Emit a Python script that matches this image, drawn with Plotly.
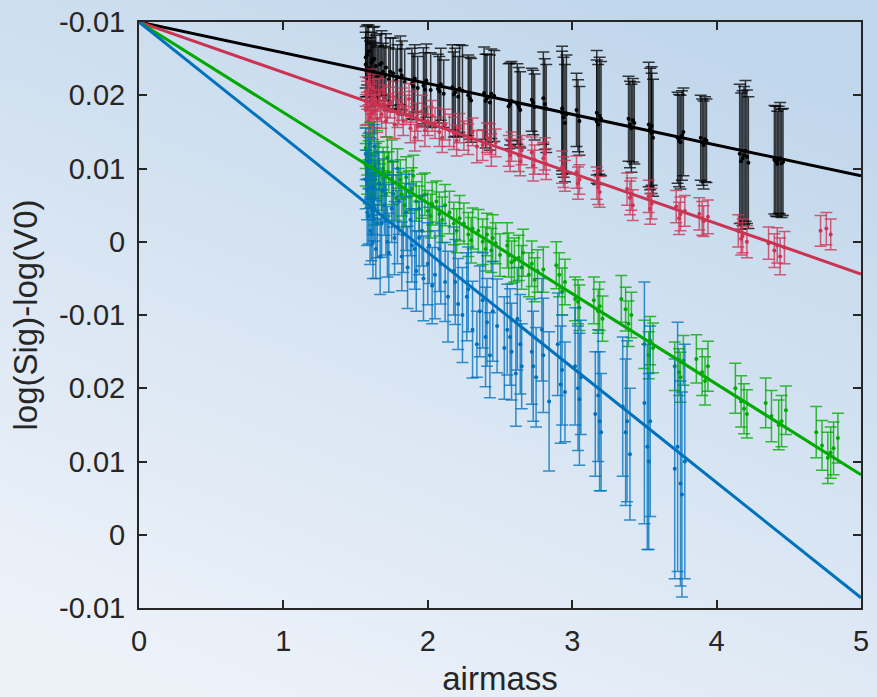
import base64
import plotly.graph_objects as go

# ---- observations: airmass, log(Sig)-log(V0), 1-sigma error ----
black_am = [1.57, 1.58, 1.59, 1.60, 1.61, 1.62, 1.63, 1.65, 1.67, 1.69, 1.71, 1.73, 1.76, 1.79, 1.81, 1.84,
            1.89, 1.91, 1.93, 1.97, 1.99, 2.02, 2.07, 2.09, 2.11, 2.17, 2.19, 2.21, 2.24, 2.28, 2.30,
            2.39, 2.41, 2.43, 2.46, 2.56, 2.58, 2.62, 2.64, 2.72, 2.74, 2.80, 2.82, 2.93, 2.94, 2.95,
            3.03, 3.05, 3.17, 3.18, 3.20, 3.39, 3.41, 3.43, 3.53, 3.55, 3.56, 3.73, 3.75, 3.77,
            3.89, 3.91, 3.93, 4.16, 4.18, 4.20, 4.22, 4.40, 4.42, 4.44, 4.46,
            1.57, 1.58, 1.60, 1.61, 1.62, 1.64, 1.66, 1.68, 1.70, 1.74,
            1.78, 1.82, 1.90, 1.98, 2.08, 2.18, 2.22, 2.29, 2.40, 2.44,
            2.57, 2.63, 2.73, 2.81, 2.93, 2.96, 3.04, 3.17, 3.19, 3.40,
            3.42, 3.54, 3.55, 3.74, 3.76, 3.90, 3.92, 4.17, 4.19, 4.21,
            4.41, 4.43, 4.45]
black_val = [-0.0048, -0.0062, -0.0040, -0.0071, -0.0055, -0.0066, -0.0050, -0.0074, -0.0058, -0.0068,
             -0.0062, -0.0078, -0.0070, -0.0075, -0.0066, -0.0082, -0.0084, -0.0077, -0.0090, -0.0087,
             -0.0080, -0.0093, -0.0091, -0.0085, -0.0098, -0.0089, -0.0096, -0.0102, -0.0094, -0.0100,
             -0.0107, -0.0097, -0.0104, -0.0110, -0.0101, -0.0115, -0.0108, -0.0112, -0.0120, -0.0106,
             -0.0116, -0.0104, -0.0118, -0.0118, -0.0130, -0.0138, -0.0120, -0.0135, -0.0124, -0.0140,
             -0.0132, -0.0132, -0.0145, -0.0138, -0.0140, -0.0152, -0.0158, -0.0158, -0.0164, -0.0150,
             -0.0158, -0.0168, -0.0162, -0.0180, -0.0186, -0.0176, -0.0192, -0.0188, -0.0194, -0.0186,
             -0.0191,
             -0.0058, -0.0045, -0.0064, -0.0070, -0.0052, -0.0060, -0.0072, -0.0056, -0.0074, -0.0068,
             -0.0080, -0.0073, -0.0088, -0.0092, -0.0095, -0.0099, -0.0091, -0.0104, -0.0108, -0.0098,
             -0.0112, -0.0116, -0.0110, -0.0112, -0.0124, -0.0126, -0.0128, -0.0136, -0.0128, -0.0140,
             -0.0134, -0.0146, -0.0142, -0.0162, -0.0155, -0.0164, -0.0160, -0.0190, -0.0182, -0.0184,
             -0.0190, -0.0188, -0.0193]
black_err = [0.0042, 0.0040, 0.0036, 0.0045, 0.0041, 0.0038, 0.0044, 0.0040, 0.0042, 0.0039, 0.0046,
             0.0043, 0.0048, 0.0044, 0.0047, 0.0045, 0.0048, 0.0046, 0.0043, 0.0052, 0.0050, 0.0051,
             0.0047, 0.0049, 0.0046, 0.0058, 0.0060, 0.0055, 0.0062, 0.0055, 0.0057, 0.0063, 0.0060,
             0.0065, 0.0062, 0.0058, 0.0054, 0.0055, 0.0052, 0.0043, 0.0045, 0.0063, 0.0060, 0.0085,
             0.0082, 0.0080, 0.0050, 0.0047, 0.0085, 0.0082, 0.0078, 0.0058, 0.0060, 0.0056, 0.0085,
             0.0082, 0.0080, 0.0062, 0.0064, 0.0060, 0.0058, 0.0060, 0.0057, 0.0095, 0.0092, 0.0096,
             0.0090, 0.0074, 0.0072, 0.0076, 0.0073,
             0.0044, 0.0041, 0.0043, 0.0040, 0.0045, 0.0042, 0.0040, 0.0044, 0.0041, 0.0046,
             0.0043, 0.0047, 0.0045, 0.0050, 0.0048, 0.0058, 0.0060, 0.0056, 0.0064, 0.0061,
             0.0056, 0.0054, 0.0044, 0.0062, 0.0084, 0.0081, 0.0049, 0.0084, 0.0080, 0.0059,
             0.0057, 0.0083, 0.0081, 0.0063, 0.0061, 0.0059, 0.0058, 0.0093, 0.0094, 0.0091,
             0.0075, 0.0073, 0.0074]

red_am = [1.57, 1.58, 1.59, 1.60, 1.61, 1.62, 1.63, 1.64, 1.66, 1.68, 1.70, 1.72, 1.76, 1.79, 1.82, 1.85,
          1.88, 1.89, 1.91, 1.92, 1.96, 2.00, 2.03, 2.08, 2.12, 2.18, 2.22, 2.28, 2.31, 2.38, 2.41,
          2.44, 2.47, 2.56, 2.58, 2.63, 2.65, 2.72, 2.74, 2.80, 2.82, 2.93, 2.95, 3.03, 3.05, 3.17,
          3.19, 3.38, 3.40, 3.42, 3.53, 3.55, 3.72, 3.75, 3.78, 3.88, 3.91, 3.94, 4.15, 4.18, 4.21,
          4.36, 4.40, 4.44, 4.47, 4.72, 4.76, 4.79,
          1.57, 1.58, 1.59, 1.60, 1.61, 1.62, 1.63, 1.65, 1.67, 1.69,
          1.71, 1.74, 1.77, 1.80, 1.83, 1.87, 1.93, 1.98, 2.05, 2.10,
          2.15, 2.20, 2.25, 2.34, 2.43, 2.57, 2.64, 2.73, 2.81, 2.94,
          3.04, 3.18, 3.41, 3.54, 3.74, 3.90, 4.17, 4.42]
red_val = [-0.0095, -0.0118, -0.0082, -0.0130, -0.0105, -0.0090, -0.0122, -0.0112, -0.0098, -0.0126,
           -0.0108, -0.0118, -0.0102, -0.0125, -0.0112, -0.0120, -0.0145, -0.0116, -0.0158, -0.0130,
           -0.0122, -0.0135, -0.0128, -0.0150, -0.0140, -0.0152, -0.0145, -0.0160, -0.0150, -0.0168,
           -0.0158, -0.0175, -0.0165, -0.0176, -0.0170, -0.0182, -0.0175, -0.0178, -0.0188, -0.0186,
           -0.0194, -0.0198, -0.0210, -0.0205, -0.0215, -0.0220, -0.0232, -0.0228, -0.0240, -0.0250,
           -0.0238, -0.0248, -0.0252, -0.0262, -0.0258, -0.0262, -0.0272, -0.0266, -0.0285, -0.0292,
           -0.0300, -0.0302, -0.0312, -0.0320, -0.0308, -0.0285, -0.0282, -0.0290,
           -0.0120, -0.0100, -0.0135, -0.0088, -0.0125, -0.0140, -0.0100, -0.0132, -0.0115, -0.0092,
           -0.0135, -0.0110, -0.0140, -0.0118, -0.0135, -0.0105, -0.0142, -0.0148, -0.0138, -0.0158,
           -0.0148, -0.0162, -0.0155, -0.0170, -0.0160, -0.0182, -0.0190, -0.0196, -0.0180, -0.0205,
           -0.0220, -0.0226, -0.0235, -0.0255, -0.0268, -0.0268, -0.0296, -0.0305]
red_err = [0.0020, 0.0022, 0.0018, 0.0020, 0.0021, 0.0019, 0.0022, 0.0020, 0.0021, 0.0019, 0.0022,
           0.0020, 0.0021, 0.0019, 0.0022, 0.0020, 0.0020, 0.0021, 0.0018, 0.0019, 0.0022, 0.0020,
           0.0021, 0.0020, 0.0021, 0.0022, 0.0020, 0.0021, 0.0019, 0.0021, 0.0020, 0.0022, 0.0019,
           0.0021, 0.0020, 0.0022, 0.0020, 0.0021, 0.0020, 0.0022, 0.0021, 0.0022, 0.0021, 0.0022,
           0.0020, 0.0022, 0.0021, 0.0022, 0.0023, 0.0021, 0.0022, 0.0021, 0.0022, 0.0023, 0.0021,
           0.0022, 0.0021, 0.0023, 0.0022, 0.0023, 0.0022, 0.0022, 0.0023, 0.0025, 0.0022, 0.0021,
           0.0022, 0.0021,
           0.0021, 0.0019, 0.0022, 0.0020, 0.0021, 0.0020, 0.0022, 0.0019, 0.0021, 0.0020,
           0.0022, 0.0021, 0.0019, 0.0022, 0.0020, 0.0021, 0.0020, 0.0022, 0.0021, 0.0020,
           0.0022, 0.0021, 0.0020, 0.0022, 0.0021, 0.0022, 0.0020, 0.0021, 0.0022, 0.0021,
           0.0022, 0.0023, 0.0022, 0.0021, 0.0022, 0.0023, 0.0022, 0.0024]

green_am = [1.57, 1.58, 1.59, 1.60, 1.61, 1.62, 1.63, 1.64, 1.66, 1.68, 1.70, 1.72, 1.76, 1.79, 1.82,
            1.85, 1.89, 1.92, 1.96, 2.00, 2.03, 2.08, 2.12, 2.18, 2.22, 2.28, 2.31, 2.38, 2.41, 2.44,
            2.47, 2.56, 2.58, 2.63, 2.65, 2.72, 2.74, 2.76, 2.89, 2.91, 2.95, 3.02, 3.05, 3.15, 3.18,
            3.21, 3.34, 3.37, 3.41, 3.50, 3.53, 3.56, 3.71, 3.74, 3.77, 3.86, 3.90, 3.94, 4.13, 4.17,
            4.21, 4.34, 4.38, 4.43, 4.48, 4.69, 4.73, 4.77, 4.81, 4.84,
            1.57, 1.58, 1.59, 1.60, 1.61, 1.62, 1.63, 1.65, 1.67, 1.69,
            1.71, 1.73, 1.75, 1.78, 1.81, 1.84, 1.87, 1.90, 1.94, 1.98,
            2.02, 2.06, 2.10, 2.15, 2.20, 2.25, 2.30, 2.35, 2.40, 2.45,
            2.50, 2.55, 2.60, 2.66, 2.70, 2.80, 2.93, 3.04, 3.19, 3.39,
            3.54, 3.75, 3.92, 4.19, 4.45, 4.79]
green_val = [-0.0172, -0.0205, -0.0188, -0.0225, -0.0180, -0.0240, -0.0198, -0.0215, -0.0192, -0.0230,
             -0.0208, -0.0185, -0.0220, -0.0200, -0.0235, -0.0212, -0.0228, -0.0245, -0.0238, -0.0258,
             -0.0248, -0.0262, -0.0250, -0.0275, -0.0268, -0.0290, -0.0282, -0.0300, -0.0290, -0.0312,
             -0.0302, -0.0318, -0.0328, -0.0322, -0.0335, -0.0330, -0.0352, -0.0340, -0.0332, -0.0345,
             -0.0355, -0.0378, -0.0390, -0.0380, -0.0395, -0.0405, -0.0378, -0.0392, -0.0400, -0.0440,
             -0.0455, -0.0445, -0.0470, -0.0478, -0.0462, -0.0460, -0.0478, -0.0470, -0.0500, -0.0518,
             -0.0535, -0.0520, -0.0538, -0.0550, -0.0530, -0.0560, -0.0578, -0.0595, -0.0582, -0.0568,
             -0.0195, -0.0182, -0.0218, -0.0165, -0.0235, -0.0210, -0.0250, -0.0178, -0.0222, -0.0200,
             -0.0235, -0.0205, -0.0190, -0.0240, -0.0215, -0.0250, -0.0232, -0.0210, -0.0255, -0.0235,
             -0.0265, -0.0245, -0.0270, -0.0260, -0.0285, -0.0275, -0.0298, -0.0285, -0.0310, -0.0295,
             -0.0318, -0.0305, -0.0325, -0.0315, -0.0345, -0.0338, -0.0368, -0.0382, -0.0388, -0.0412,
             -0.0435, -0.0485, -0.0490, -0.0528, -0.0545, -0.0588]
green_err = [0.0028, 0.0030, 0.0026, 0.0029, 0.0027, 0.0030, 0.0028, 0.0026, 0.0029, 0.0027, 0.0030,
             0.0028, 0.0029, 0.0027, 0.0030, 0.0028, 0.0029, 0.0027, 0.0030, 0.0028, 0.0029, 0.0030,
             0.0028, 0.0029, 0.0031, 0.0030, 0.0028, 0.0031, 0.0029, 0.0030, 0.0028, 0.0030, 0.0029,
             0.0031, 0.0030, 0.0031, 0.0030, 0.0029, 0.0032, 0.0030, 0.0031, 0.0030, 0.0031, 0.0032,
             0.0030, 0.0031, 0.0032, 0.0030, 0.0031, 0.0033, 0.0032, 0.0034, 0.0033, 0.0032, 0.0034,
             0.0033, 0.0032, 0.0034, 0.0034, 0.0035, 0.0033, 0.0034, 0.0035, 0.0034, 0.0033, 0.0035,
             0.0034, 0.0035, 0.0036, 0.0034,
             0.0029, 0.0027, 0.0030, 0.0028, 0.0029, 0.0031, 0.0027, 0.0030, 0.0028, 0.0029,
             0.0030, 0.0028, 0.0029, 0.0031, 0.0027, 0.0030, 0.0029, 0.0028, 0.0031, 0.0029,
             0.0030, 0.0028, 0.0031, 0.0029, 0.0030, 0.0028, 0.0031, 0.0029, 0.0030, 0.0032,
             0.0029, 0.0031, 0.0030, 0.0032, 0.0030, 0.0031, 0.0032, 0.0030, 0.0033, 0.0031,
             0.0033, 0.0034, 0.0033, 0.0034, 0.0035, 0.0035]

blue_am = [1.57, 1.58, 1.59, 1.60, 1.61, 1.62, 1.63, 1.64, 1.66, 1.68, 1.70, 1.72, 1.76, 1.79, 1.82,
           1.85, 1.89, 1.92, 1.96, 2.00, 2.03, 2.08, 2.12, 2.18, 2.21, 2.28, 2.34, 2.38, 2.41, 2.45,
           2.55, 2.58, 2.62, 2.65, 2.72, 2.75, 2.79, 2.84, 2.90, 2.93, 2.95, 3.02, 3.04, 3.06, 3.16,
           3.18, 3.20, 3.35, 3.37, 3.40, 3.50, 3.52, 3.54, 3.71, 3.73, 3.75, 3.78,
           1.57, 1.58, 1.59, 1.60, 1.61, 1.62, 1.63, 1.64, 1.65, 1.67,
           1.69, 1.71, 1.73, 1.75, 1.77, 1.80, 1.83, 1.86, 1.88, 1.91,
           1.94, 1.97, 2.01, 2.05, 2.09, 2.14, 2.19, 2.24, 2.27, 2.31,
           2.36, 2.40, 2.43, 2.48, 2.53, 2.57, 2.61, 2.64, 2.73, 2.80,
           2.92, 3.05, 3.19, 3.38, 3.53, 3.76]
blue_val = [-0.0180, -0.0230, -0.0265, -0.0200, -0.0290, -0.0245, -0.0170, -0.0310, -0.0220, -0.0275,
            -0.0250, -0.0300, -0.0235, -0.0280, -0.0320, -0.0260, -0.0305, -0.0340, -0.0285, -0.0330,
            -0.0360, -0.0310, -0.0355, -0.0340, -0.0385, -0.0365, -0.0440, -0.0380, -0.0410, -0.0395,
            -0.0420, -0.0450, -0.0405, -0.0470, -0.0450, -0.0485, -0.0420, -0.0518, -0.0440, -0.0475,
            -0.0505, -0.0470, -0.0500, -0.0485, -0.0535, -0.0510, -0.0560, -0.0525, -0.0560, -0.0590,
            -0.0520, -0.0580, -0.0545, -0.0610, -0.0580, -0.0630, -0.0600,
            -0.0215, -0.0260, -0.0190, -0.0285, -0.0225, -0.0300, -0.0255, -0.0205, -0.0275, -0.0320,
            -0.0230, -0.0270, -0.0315, -0.0255, -0.0295, -0.0245, -0.0290, -0.0335, -0.0270, -0.0310,
            -0.0295, -0.0350, -0.0305, -0.0345, -0.0330, -0.0375, -0.0355, -0.0400, -0.0375, -0.0420,
            -0.0395, -0.0430, -0.0455, -0.0415, -0.0445, -0.0430, -0.0480, -0.0440, -0.0470, -0.0455,
            -0.0495, -0.0515, -0.0545, -0.0545, -0.0600, -0.0645]
blue_err = [0.0035, 0.0040, 0.0038, 0.0042, 0.0036, 0.0045, 0.0030, 0.0040, 0.0043, 0.0046, 0.0041,
            0.0048, 0.0045, 0.0050, 0.0047, 0.0052, 0.0050, 0.0055, 0.0048, 0.0056, 0.0052, 0.0058,
            0.0054, 0.0060, 0.0062, 0.0058, 0.0045, 0.0065, 0.0060, 0.0068, 0.0062, 0.0066, 0.0070,
            0.0058, 0.0072, 0.0068, 0.0070, 0.0095, 0.0070, 0.0075, 0.0068, 0.0080, 0.0085, 0.0078,
            0.0085, 0.0090, 0.0080, 0.0095, 0.0100, 0.0090, 0.0165, 0.0140, 0.0130, 0.0150, 0.0170,
            0.0140, 0.0160,
            0.0040, 0.0045, 0.0038, 0.0046, 0.0042, 0.0050, 0.0044, 0.0039, 0.0047, 0.0052,
            0.0043, 0.0048, 0.0054, 0.0046, 0.0050, 0.0045, 0.0052, 0.0056, 0.0049, 0.0055,
            0.0050, 0.0058, 0.0052, 0.0060, 0.0055, 0.0062, 0.0058, 0.0065, 0.0060, 0.0066,
            0.0062, 0.0068, 0.0058, 0.0064, 0.0070, 0.0066, 0.0072, 0.0068, 0.0075, 0.0078,
            0.0080, 0.0090, 0.0095, 0.0110, 0.0120, 0.0140]

# ---- fitted extinction lines: value at airmass 0 and at airmass 5 ----
fit_x = [0, 5]
fit_black = [0.0, -0.0210]
fit_red = [0.0, -0.0344]
fit_green = [0.0, -0.0618]
fit_blue = [0.0, -0.0786]

# ---- axis ticks ----
x_ticks = [0, 1, 2, 3, 4, 5]
y_tickvals = [0.0, -0.01, -0.02, -0.03, -0.04, -0.05, -0.06, -0.07, -0.08]
y_ticktext = ["-0.01", "0.02", "0.01", "0", "-0.01", "0.02", "0.01", "0", "-0.01"]

AXIS_COLOR = "#262626"
FONT = "Liberation Sans, Arial, sans-serif"

series = [
    (black_am, black_val, black_err, "#000000", "rgba(0,0,0,0.75)"),
    (red_am, red_val, red_err, "#cc3352", "rgba(204,51,82,0.78)"),
    (green_am, green_val, green_err, "#00aa00", "rgba(0,170,0,0.78)"),
    (blue_am, blue_val, blue_err, "#0072bd", "rgba(0,114,189,0.78)"),
]
fits = [(fit_black, "#000000"), (fit_red, "#cc3352"), (fit_green, "#00aa00"), (fit_blue, "#0072bd")]

fig = go.Figure()
for am, val, err, col, ecol in series:
    fig.add_trace(go.Scatter(
        x=am, y=val, mode="markers",
        marker=dict(size=4, color=col),
        error_y=dict(type="data", array=err, visible=True, color=ecol, thickness=1.5, width=6),
        showlegend=False, hoverinfo="x+y",
    ))
for fy, col in fits:
    fig.add_trace(go.Scatter(x=fit_x, y=fy, mode="lines", line=dict(color=col, width=3),
                             showlegend=False, hoverinfo="skip"))

# soft diagonal backdrop behind the whole figure
svg = ("<svg xmlns='http://www.w3.org/2000/svg' width='877' height='697' viewBox='0 0 877 697' "
       "preserveAspectRatio='none'><defs><linearGradient id='g' x1='0.75' y1='0' x2='0.25' y2='1'>"
       "<stop offset='0' stop-color='#c0d6eb'/><stop offset='1' stop-color='#edf2f9'/>"
       "</linearGradient></defs><rect width='877' height='697' fill='url(#g)'/></svg>")
bg_uri = "data:image/svg+xml;base64," + base64.b64encode(svg.encode()).decode()

L, R, T, B = 139, 16, 22, 89
W, H = 877, 697
pw, ph = W - L - R, H - T - B

fig.add_layout_image(dict(
    source=bg_uri, xref="paper", yref="paper",
    x=-L / pw, y=1 + T / ph, sizex=W / pw, sizey=H / ph,
    xanchor="left", yanchor="top", sizing="stretch", layer="below",
))

axis_common = dict(
    showgrid=False, zeroline=False, showline=True, linecolor=AXIS_COLOR, linewidth=2,
    mirror="ticks", ticks="inside", ticklen=8, tickwidth=2, tickcolor=AXIS_COLOR,
    tickfont=dict(family=FONT, size=29, color=AXIS_COLOR), automargin=False,
)

fig.update_layout(
    width=W, height=H,
    margin=dict(l=L, r=R, t=T, b=B, autoexpand=False),
    paper_bgcolor="#dde8f3", plot_bgcolor="rgba(0,0,0,0)",
    font=dict(family=FONT, color=AXIS_COLOR),
    xaxis=dict(range=[0, 5], tickvals=x_ticks, ticklabelstandoff=6,
               title=dict(text="airmass", font=dict(family=FONT, size=33, color=AXIS_COLOR), standoff=12),
               **axis_common),
    yaxis=dict(range=[-0.08, 0], tickvals=y_tickvals, ticktext=y_ticktext, ticklabelstandoff=6,
               title=dict(text="log(Sig)-log(V0)", font=dict(family=FONT, size=33, color=AXIS_COLOR),
                          standoff=12),
               **axis_common),
)

fig.write_html("out.html")
